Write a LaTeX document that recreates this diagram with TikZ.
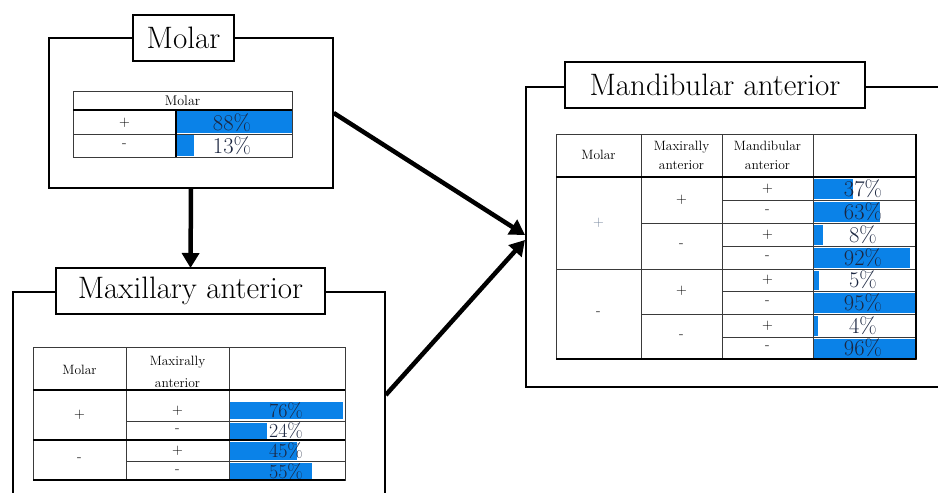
\documentclass[tikz,border=0pt]{standalone}
\usepackage{fontspec}
\usetikzlibrary{arrows.meta,positioning}
\definecolor{BarBlue}{HTML}{0A82E8}
\definecolor{Ink}{HTML}{1B2640}
\definecolor{Grid}{HTML}{3A3A3A}
\definecolor{Pale}{HTML}{7A8AA0}
\tikzset{
  panel/.style={draw,line width=1.5pt,inner sep=0pt},
  ttl/.style={draw,line width=1.5pt,fill=white,minimum height=46pt,inner sep=0pt,font=\fontsize{31}{31}\selectfont},
  tbl/.style={Grid,line width=.8pt},
  rule/.style={black,line width=1.3pt},
  bar/.style={fill=BarBlue},
  pct/.style={Ink,font=\fontsize{22.5}{22.5}\selectfont,inner sep=0pt},
  sgn/.style={font=\fontsize{15}{15}\selectfont,inner sep=0pt},
  hdr/.style={font=\fontsize{13.5}{19}\selectfont,align=center,inner sep=0pt},
  arr/.style={line width=4.5pt,-{Triangle[length=15pt,width=17pt]}}
}
\begin{document}
\begin{tikzpicture}[x=1pt,y=-1pt]
  \useasboundingbox (0,0) rectangle (938,493);
  \clip (0,0) rectangle (938,493);
  % panels
  \node[panel,minimum width=284pt,minimum height=150pt] (molar) at (191,113) {};
  \node[panel,minimum width=372pt,minimum height=218pt] (maxil) at (199,401) {};
  \node[panel,minimum width=424pt,minimum height=300pt] (mandib) at (738,237) {};
  \coordinate (tipA) at (525,235);
  \coordinate (tipB) at (525,240);
  \draw[arr] (molar.south) -- (190.5,268) coordinate (downTip);
  \draw[arr] (molar.east) -- (tipA);
  \draw[arr] ([yshift=6pt]maxil.east) -- (tipB);
  \node[ttl,minimum width=101pt] (molarT) at (183.5,38) {Molar};
  \node[ttl,minimum width=269pt] (maxilT) at (190.5,291) {Maxillary anterior};
  \node[ttl,minimum width=300pt] (mandibT) at (715,85) {Mandibular anterior};

  % molar table
  \fill[bar] (176,111) rectangle (292,133);
  \fill[bar] (176,135) rectangle (194,156);
  \draw[tbl] (73,91) rectangle (292,157) (73,134) -- (292,134);
  \draw[rule] (73,110) -- (292,110) (176,110) -- (176,157);
  \node[hdr,font=\fontsize{14}{16}\selectfont] (mh) at (182.5,100.5) {Molar};
  \node[sgn] (ms1) at (124.5,123) {+};
  \node[sgn] (ms2) at (124.5,146) {-};
  \node[pct] (mp1) at (232,123) {88\%};
  \node[pct] (mp2) at (232,146) {13\%};

  % maxillary table
  \foreach \a/\b/\r/\s/\p [count=\i] in {402/419/343/+/76,423/439/267/-/24,442/460/297/+/45,463/480/312/-/55}{
    \fill[bar] (229,\a) rectangle (\r,\b);
    \node[sgn] (xs\i) at (177.5,{(\a+\b)/2}) {\s};
    \node[pct,font=\fontsize{20}{20}\selectfont] (xp\i) at (286,{(\a+\b)/2}) {\p\%};
  }
  \draw[tbl] (33,347) rectangle (345,480) (126,421) -- (345,421) (126,461) -- (345,461)
    (126,347) -- (126,480) (229,347) -- (229,480);
  \draw[rule] (33,390) -- (345,390) (33,440) -- (345,440) (33,480) -- (345,480);
  \node[hdr] (xh1) at (79.5,370) {Molar};
  \node[hdr,font=\fontsize{13.5}{22}\selectfont] (xh2) at (177.5,372) {Maxirally\\anterior};
  \node[sgn] (xm1) at (79.5,415) {+};
  \node[sgn] (xm2) at (79.5,460) {-};

  % mandibular table
  \foreach \a/\b/\r/\s/\p [count=\i] in {177/200/853/+/37,200/223/880/-/63,223/246/823/+/8,246/269/910/-/92,
      269/291/819/+/5,291/314/916/-/95,314/337/818/+/4,337/359/916/-/96}{
    \fill[bar] (813,\a+2) rectangle (\r,\b-1);
    \node[sgn] (ds\i) at (767.5,{(\a+\b)/2}) {\s};
    \node[pct] (dp\i) at (863,{(\a+\b)/2}) {\p\%};
  }
  \draw[tbl] (556,134) rectangle (916,359);
  \foreach \y in {200,246,291,337} \draw[tbl] (722,\y) -- (916,\y);
  \foreach \y in {223,314} \draw[tbl] (641,\y) -- (916,\y);
  \foreach \x in {641,722,813} \draw[tbl] (\x,134) -- (\x,359);
  \draw[tbl] (556,269) -- (916,269);
  \draw[rule] (556,177) -- (916,177) (556,359) -- (916,359) (916,134) -- (916,359);
  \node[hdr] (dh1) at (598.5,155) {Molar};
  \node[hdr] (dh2) at (681.5,155) {Maxirally\\anterior};
  \node[hdr] (dh3) at (767.5,155) {Mandibular\\anterior};
  \node[sgn,Pale] (dm1) at (598.5,223) {+};
  \node[sgn] (dm2) at (598.5,314) {-};
  \foreach \y/\s [count=\i] in {200/+,246/-,291/+,337/-}
    \node[sgn] (dx\i) at (681.5,\y) {\s};
\end{tikzpicture}
\end{document}
